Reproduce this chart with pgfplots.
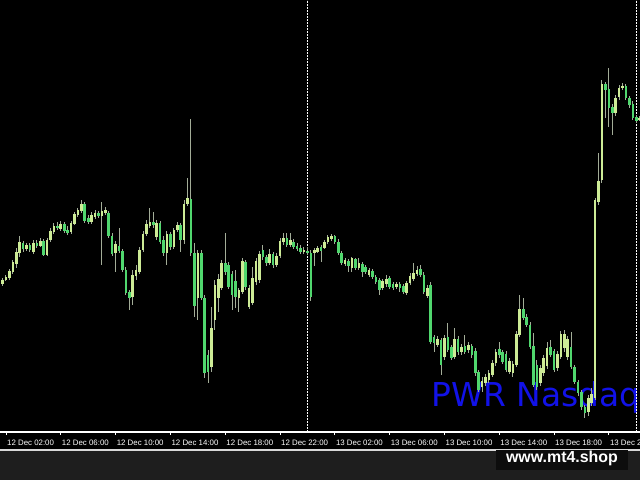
\documentclass[border=0pt]{standalone}
\usepackage{pgfplots}
\pgfplotsset{compat=1.18}
\usepackage{pgfplotstable}
\usepackage{fontspec}
\setmainfont{Liberation Sans}
\newfontfamily\dejavu{DejaVu Sans}
\definecolor{bullc}{HTML}{CDEB96}
\definecolor{bearc}{HTML}{50D76E}
\definecolor{wickc}{HTML}{A3AD98}
\definecolor{pwrblue}{HTML}{1212E8}
\definecolor{stripgray}{HTML}{1E1E1E}

% columns: bar index (15 min bars from 12 Dec 02:00), open, high, low, close (screen y, down = lower price)
\pgfplotstableread{
k O H L C
-1 284 278 286 280
0 280 275 281 277
1 278 269 280 271
2 272 260 274 262
3 264 248 268 252
4 253 236 257 242
6 249 243 251 245
8 252 240 254 243
10 246 238 247 241
12 255 238 256 240
13 240 228 242 231
14 232 223 234 226
16 229 221 231 224
19 232 221 234 223
20 224 212 225 214
21 215 208 217 210
22 211 200 213 204
25 222 212 224 215
26 217 210 219 213
28 216 202 265 211
29 213 207 215 210
32 253 241 272 244
37 297 270 305 275
38 276 265 280 270
39 272 247 274 250
40 250 231 252 234
41 234 220 236 224
42 226 208 228 222
44 237 220 240 223
47 253 231 265 234
49 247 228 249 230
50 230 222 232 225
52 240 200 244 204
53 204 178 206 198
56 298 250 320 253
60 367 307 372 328
61 320 280 330 285
62 298 274 312 279
63 288 260 290 263
68 298 288 312 290
69 292 258 294 261
71 307 285 309 288
72 303 267 305 278
73 282 258 285 261
74 280 251 283 254
77 263 249 265 254
79 265 253 267 256
80 256 238 258 241
81 242 233 245 238
83 245 233 247 240
87 252 247 254 250
90 253 248 266 250
91 252 246 253 248
93 248 240 249 242
94 242 235 244 237
95 239 234 241 236
99 264 258 266 260
101 268 257 272 258
103 268 258 270 263
106 275 268 277 270
110 288 279 290 281
111 284 275 287 279
114 287 282 289 284
117 293 281 295 283
118 283 273 285 276
119 279 263 281 273
120 274 266 276 270
123 296 285 298 288
126 345 336 347 339
128 357 335 360 338
131 357 328 359 339
133 352 344 355 347
135 350 342 353 345
139 387 377 392 381
140 383 374 386 377
141 380 370 383 373
142 375 360 377 363
143 363 349 366 352
147 372 358 374 361
148 373 361 377 364
149 365 331 367 334
150 335 295 337 309
156 383 365 386 368
157 373 355 376 358
158 366 342 369 348
161 368 351 371 354
162 357 331 359 334
163 348 330 352 334
164 357 336 360 339
170 412 395 416 398
171 403 388 406 394
172 398 198 400 200
173 202 153 205 181
174 180 80 183 84
178 113 95 116 98
179 97 85 100 88
180 88 83 90 86
185 120 116 121 118
}\bulldata

\pgfplotstableread{
k O H L C
5 243 241 252 249
7 245 243 252 250
9 243 240 248 246
11 241 239 256 255
15 226 222 230 228
17 224 222 233 231
18 230 226 235 233
23 204 202 223 221
24 218 215 224 222
27 213 211 218 216
30 213 211 238 236
31 236 233 256 254
33 246 228 253 251
34 251 249 272 270
35 270 267 295 293
36 292 290 310 298
43 222 212 228 225
45 223 221 244 242
46 240 236 256 253
48 234 232 250 247
51 225 223 252 240
54 199 119 256 253
55 253 243 317 306
57 253 250 300 298
58 298 295 378 373
59 355 350 383 372
64 263 233 275 272
65 265 262 289 287
66 274 271 310 295
67 281 270 308 297
70 262 260 290 287
75 250 245 260 257
76 257 255 266 263
78 254 252 268 265
82 238 233 247 245
84 242 239 249 247
85 246 243 251 249
86 248 245 254 252
88 251 247 255 253
89 253 250 301 297
92 247 245 262 251
96 236 235 244 242
97 242 239 255 253
98 253 251 265 263
100 261 259 272 266
102 259 258 270 268
104 264 262 277 272
105 267 265 274 272
107 271 269 279 277
108 277 275 284 282
109 280 278 295 290
112 278 276 289 287
113 284 282 290 288
115 284 282 292 288
116 286 284 294 292
121 269 265 277 275
122 275 272 294 292
124 285 282 344 342
125 337 335 352 343
127 340 338 375 365
129 337 323 352 350
130 347 345 360 358
132 339 336 355 352
134 346 335 354 352
136 346 344 358 355
137 351 348 376 373
138 372 370 392 390
144 349 342 358 355
145 352 350 364 362
146 354 351 372 370
151 309 298 320 318
152 317 314 327 325
153 325 322 349 347
154 346 333 387 385
155 365 360 390 387
159 347 340 357 355
160 351 349 372 370
165 347 332 369 367
166 367 365 384 382
167 382 380 396 393
168 392 390 410 407
169 407 405 418 413
175 84 82 118 90
176 89 68 127 108
177 107 104 135 113
181 86 84 100 98
182 98 96 108 105
183 104 101 120 118
184 117 115 123 121
}\beardata

\begin{document}
\begin{tikzpicture}[x=1bp,y=1bp]
\useasboundingbox (0,0) rectangle (640,480);
\clip (0,0) rectangle (640,480);
\fill[black] (0,0) rectangle (640,480);
\fill[stripgray] (0,0) rectangle (640,29);
\fill[white!85!black] (0,29) rectangle (640,31);
\node[anchor=base west, inner sep=0pt, text=pwrblue, font=\dejavu\fontsize{33}{33}\selectfont] at (431,73) {PWR Nasdaq};
\begin{axis}[
  at={(0,48)}, anchor=south west, scale only axis,
  width=640bp, height=432bp,
  xmin=-1.75, xmax=185.1, ymin=0, ymax=432,
  axis x line*=bottom, axis y line=none,
  x axis line style={white, line width=1.2bp},
  xtick={0,16,32,48,64,80,96,112,128,144,160,176},
  xticklabels={12 Dec 02:00,12 Dec 06:00,12 Dec 10:00,12 Dec 14:00,12 Dec 18:00,12 Dec 22:00,13 Dec 02:00,13 Dec 06:00,13 Dec 10:00,13 Dec 14:00,13 Dec 18:00,13 Dec 22:00},
  xtick align=outside, major tick length=3bp,
  xtick style={white, line width=0.8bp},
  xticklabel style={anchor=west, inner sep=0pt, text=white, font=\fontsize{7.9}{8}\selectfont, yshift=-8bp, xshift=1bp},
  clip=true,
]
\draw[white, line width=1.1bp, dash pattern=on 1.5bp off 1.5bp] (axis cs:88,0) -- (axis cs:88,432);
\draw[white, line width=1.1bp, dash pattern=on 1.5bp off 1.5bp] (axis cs:184,0) -- (axis cs:184,432);
% wicks
\addplot[draw=none, mark=none, forget plot, error bars/.cd, y dir=both, y explicit, error mark=none, error bar style={draw=wickc, line width=1bp}]
  table[x=k, y expr={432-0.5*(\thisrow{H}+\thisrow{L})}, y error expr={0.5*(\thisrow{L}-\thisrow{H})}] {\bulldata};
\addplot[draw=none, mark=none, forget plot, error bars/.cd, y dir=both, y explicit, error mark=none, error bar style={draw=wickc, line width=1bp}]
  table[x=k, y expr={432-0.5*(\thisrow{H}+\thisrow{L})}, y error expr={0.5*(\thisrow{L}-\thisrow{H})}] {\beardata};
% bodies
\addplot[draw=none, mark=none, forget plot, error bars/.cd, y dir=both, y explicit, error mark=none, error bar style={draw=bullc, line width=2.6bp}]
  table[x=k, y expr={432-0.5*(\thisrow{O}+\thisrow{C})}, y error expr={max(0.5*abs(\thisrow{O}-\thisrow{C}),0.6)}] {\bulldata};
\addplot[draw=none, mark=none, forget plot, error bars/.cd, y dir=both, y explicit, error mark=none, error bar style={draw=bearc, line width=2.6bp}]
  table[x=k, y expr={432-0.5*(\thisrow{O}+\thisrow{C})}, y error expr={max(0.5*abs(\thisrow{O}-\thisrow{C}),0.6)}] {\beardata};
\end{axis}
\fill[black!95!white] (496,10) rectangle (628,30);
\node[anchor=base, text=white, font=\bfseries\fontsize{16}{16}\selectfont, inner sep=0pt] at (562,17.5) {www.mt4.shop};
\end{tikzpicture}
\end{document}
